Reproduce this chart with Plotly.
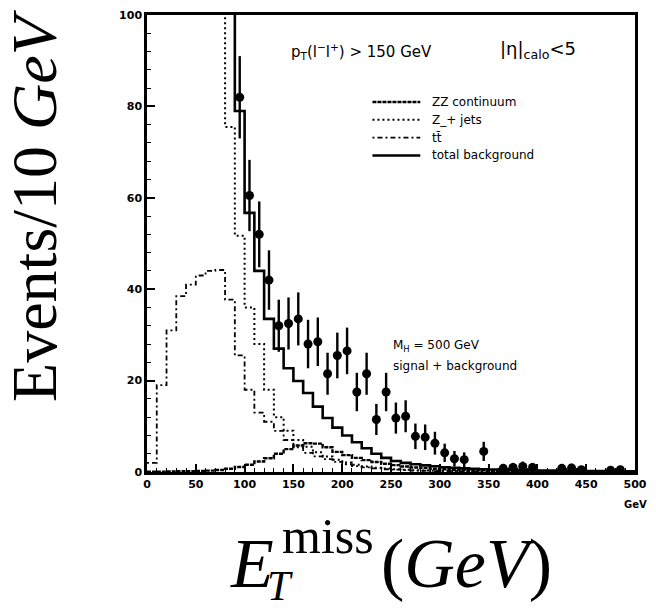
import plotly.graph_objects as go

# 10 GeV bins, 0 - 500 GeV
bin_edges = list(range(0, 510, 10))

# Background expectations per 10 GeV bin (low edge 0 ... 490)
zz_continuum = [0.05, 0.08, 0.1, 0.15, 0.2, 0.25, 0.3, 0.45, 0.7, 1.1,
                1.6, 2.3, 3.0, 4.0, 5.0, 5.8, 6.3, 6.2, 5.4, 4.4,
                3.7, 3.1, 2.6, 2.2, 1.8, 1.5, 1.2, 1.0, 0.85, 0.7,
                0.6, 0.5, 0.45, 0.4, 0.35, 0.3, 0.28, 0.25, 0.22, 0.2,
                0.18, 0.16, 0.15, 0.14, 0.13, 0.12, 0.11, 0.1, 0.1, 0.1]

z_plus_jets = [380, 360, 300, 250, 210, 170, 140, 110, 75.5, 51.7,
               36, 28, 18, 12, 9, 7, 5.5, 4.3, 3.4, 2.7,
               2.1, 1.6, 1.2, 0.95, 0.75, 0.6, 0.5, 0.4, 0.35, 0.3,
               0.25, 0.2, 0.18, 0.16, 0.14, 0.12, 0.1, 0.08, 0.08, 0.07,
               0.07, 0.06, 0.06, 0.05, 0.05, 0.05, 0.04, 0.04, 0.04, 0.03]

ttbar = [2, 19, 31, 38.5, 41, 43, 44, 44.2, 37.7, 25.5,
         18, 13, 11, 9, 7, 5.4, 4.2, 3.4, 2.8, 2.2,
         1.7, 1.3, 1.0, 0.8, 0.6, 0.5, 0.4, 0.32, 0.26, 0.2,
         0.16, 0.12, 0.1, 0.08, 0.06, 0.05, 0.05, 0.04, 0.04, 0.03,
         0.03, 0.03, 0.02, 0.02, 0.02, 0.02, 0.01, 0.01, 0.01, 0.01]

total_background = [400, 380, 340, 300, 260, 220, 180, 150, 120, 79,
                    56.7, 44, 33.5, 27, 22.7, 19.9, 17.3, 14.3, 11.8, 9.7,
                    8.0, 6.5, 5.2, 4.0, 3.1, 2.4, 2.0, 1.7, 1.45, 1.25,
                    1.05, 0.9, 0.8, 0.7, 0.6, 0.55, 0.5, 0.45, 0.4, 0.36,
                    0.33, 0.3, 0.27, 0.25, 0.23, 0.21, 0.2, 0.18, 0.17, 0.16]

# Signal + background pseudo-data, M_H = 500 GeV (bin centres in GeV)
data_met = [95, 105, 115, 125, 135, 145, 155, 165, 175, 185,
            195, 205, 215, 225, 235, 245, 255, 265, 275, 285,
            295, 305, 315, 325, 345, 365, 375, 385, 395, 425,
            435, 445, 475, 485]
data_events = [82, 60.5, 52, 42, 32, 32.5, 33.5, 28, 28.5, 21.5,
               25.5, 26.5, 17.5, 21.5, 11.5, 17.5, 11.8, 12.2, 7.8, 7.6,
               6.3, 4.2, 2.9, 2.7, 4.5, 0.8, 1.0, 1.2, 1.0, 0.8,
               0.9, 0.5, 0.4, 0.5]
data_errors = [9.0, 7.8, 7.2, 6.5, 5.7, 5.7, 5.8, 5.3, 5.3, 4.6,
               5.0, 5.1, 4.2, 4.6, 3.4, 4.2, 3.4, 3.5, 2.8, 2.8,
               2.5, 2.0, 1.7, 1.6, 2.1, 0.9, 1.0, 1.1, 1.0, 0.9,
               0.9, 0.7, 0.6, 0.7]

x_ticks = list(range(0, 550, 50))
y_ticks = list(range(0, 120, 20))

# (label, values, dash, width) for each background histogram
backgrounds = [
    ("ZZ continuum", zz_continuum, "4px,1px", 2.4),
    ("Z_+ jets", z_plus_jets, "2px,3px", 2),
    ("tt\u0304", ttbar, "2px,3px,5px,3px", 1.8),
    ("total background", total_background, "solid", 2.6),
]

fig = go.Figure()
for label, values, dash, width in backgrounds:
    fig.add_trace(go.Scatter(
        x=bin_edges,
        y=values + [values[-1]],
        mode="lines",
        line=dict(shape="hv", color="black", dash=dash, width=width),
        name=label,
        showlegend=False,
    ))

fig.add_trace(go.Scatter(
    x=data_met, y=data_events,
    mode="markers",
    marker=dict(symbol="circle", size=9, color="black"),
    error_y=dict(type="data", array=data_errors, color="black",
                 thickness=2.4, width=0),
    showlegend=False,
))

tick_font = dict(family="DejaVu Sans", size=11, color="black", weight="bold")

fig.update_layout(
    width=656, height=614,
    margin=dict(l=147, r=9, t=10, b=142),
    plot_bgcolor="white", paper_bgcolor="white",
    showlegend=False,
    xaxis=dict(
        range=[0, 500], tickvals=x_ticks, ticktext=[str(v) for v in x_ticks],
        ticks="inside", ticklen=8, tickwidth=1.5, tickcolor="black",
        minor=dict(dtick=10, ticks="inside", ticklen=4, tickwidth=1, tickcolor="black"),
        showline=True, linewidth=2.5, linecolor="black", mirror=True,
        showgrid=False, zeroline=False, tickfont=tick_font,
    ),
    yaxis=dict(
        range=[0, 100], tickvals=y_ticks, ticktext=[str(v) for v in y_ticks],
        ticks="inside", ticklen=8, tickwidth=1.5, tickcolor="black",
        minor=dict(dtick=4, ticks="inside", ticklen=4, tickwidth=1, tickcolor="black"),
        showline=True, linewidth=2.5, linecolor="black", mirror=True,
        showgrid=False, zeroline=False, tickfont=tick_font,
    ),
)

# Hand-placed key in the upper right of the frame
key_x0, key_x1, key_text_x = 0.462, 0.56, 0.58
key_rows = [0.8095, 0.7706, 0.7316, 0.6926]
for (label, _, dash, width), ky in zip(backgrounds, key_rows):
    fig.add_shape(type="line", xref="paper", yref="paper",
                  x0=key_x0, x1=key_x1, y0=ky, y1=ky,
                  line=dict(color="black", dash=dash, width=width))
    fig.add_annotation(text=label, xref="paper", yref="paper",
                       x=key_text_x, y=ky, xanchor="left", yanchor="middle",
                       showarrow=False,
                       font=dict(family="DejaVu Sans", size=12, color="black"))

serif = "Liberation Serif"
annotations = [
    # y-axis title
    dict(text="Events/10 <i>GeV</i>", x=-0.232, y=0.584, textangle=-90,
         xanchor="center", font=dict(family=serif, size=64)),
    # x-axis title pieces
    dict(text="<i>E</i>", x=0.166, y=-0.201, xanchor="left",
         font=dict(family=serif, size=70)),
    dict(text="miss", x=0.272, y=-0.139, xanchor="left",
         font=dict(family=serif, size=50)),
    dict(text="<i>T</i>", x=0.242, y=-0.25, xanchor="left",
         font=dict(family=serif, size=42)),
    dict(text="(<i>GeV</i>)", x=0.476, y=-0.201, xanchor="left",
         font=dict(family=serif, size=70)),
    # unit under the last tick
    dict(text="GeV", x=1.0, y=-0.071, xanchor="center",
         font=dict(family="DejaVu Sans", size=10, weight="bold")),
    # selection cuts
    dict(text="p<sub>T</sub>(l<sup>\u2212</sup>l<sup>+</sup>) > 150 GeV", x=0.292, y=0.92,
         xanchor="left", font=dict(family="DejaVu Sans", size=15)),
    dict(text="|\u03b7|<sub>calo</sub><5", x=0.72, y=0.924, xanchor="left",
         font=dict(family="DejaVu Sans", size=18)),
    # signal label
    dict(text="M<sub>H</sub> = 500 GeV", x=0.5, y=0.275, xanchor="left",
         font=dict(family="DejaVu Sans", size=12)),
    dict(text="signal + background", x=0.5, y=0.232, xanchor="left",
         font=dict(family="DejaVu Sans", size=12)),
]
for a in annotations:
    a["xref"] = "paper"
    a["yref"] = "paper"
    a.setdefault("yanchor", "middle")
    a["font"].setdefault("color", "black")
    a["showarrow"] = False
    fig.add_annotation(**a)

fig.write_html("out.html")
